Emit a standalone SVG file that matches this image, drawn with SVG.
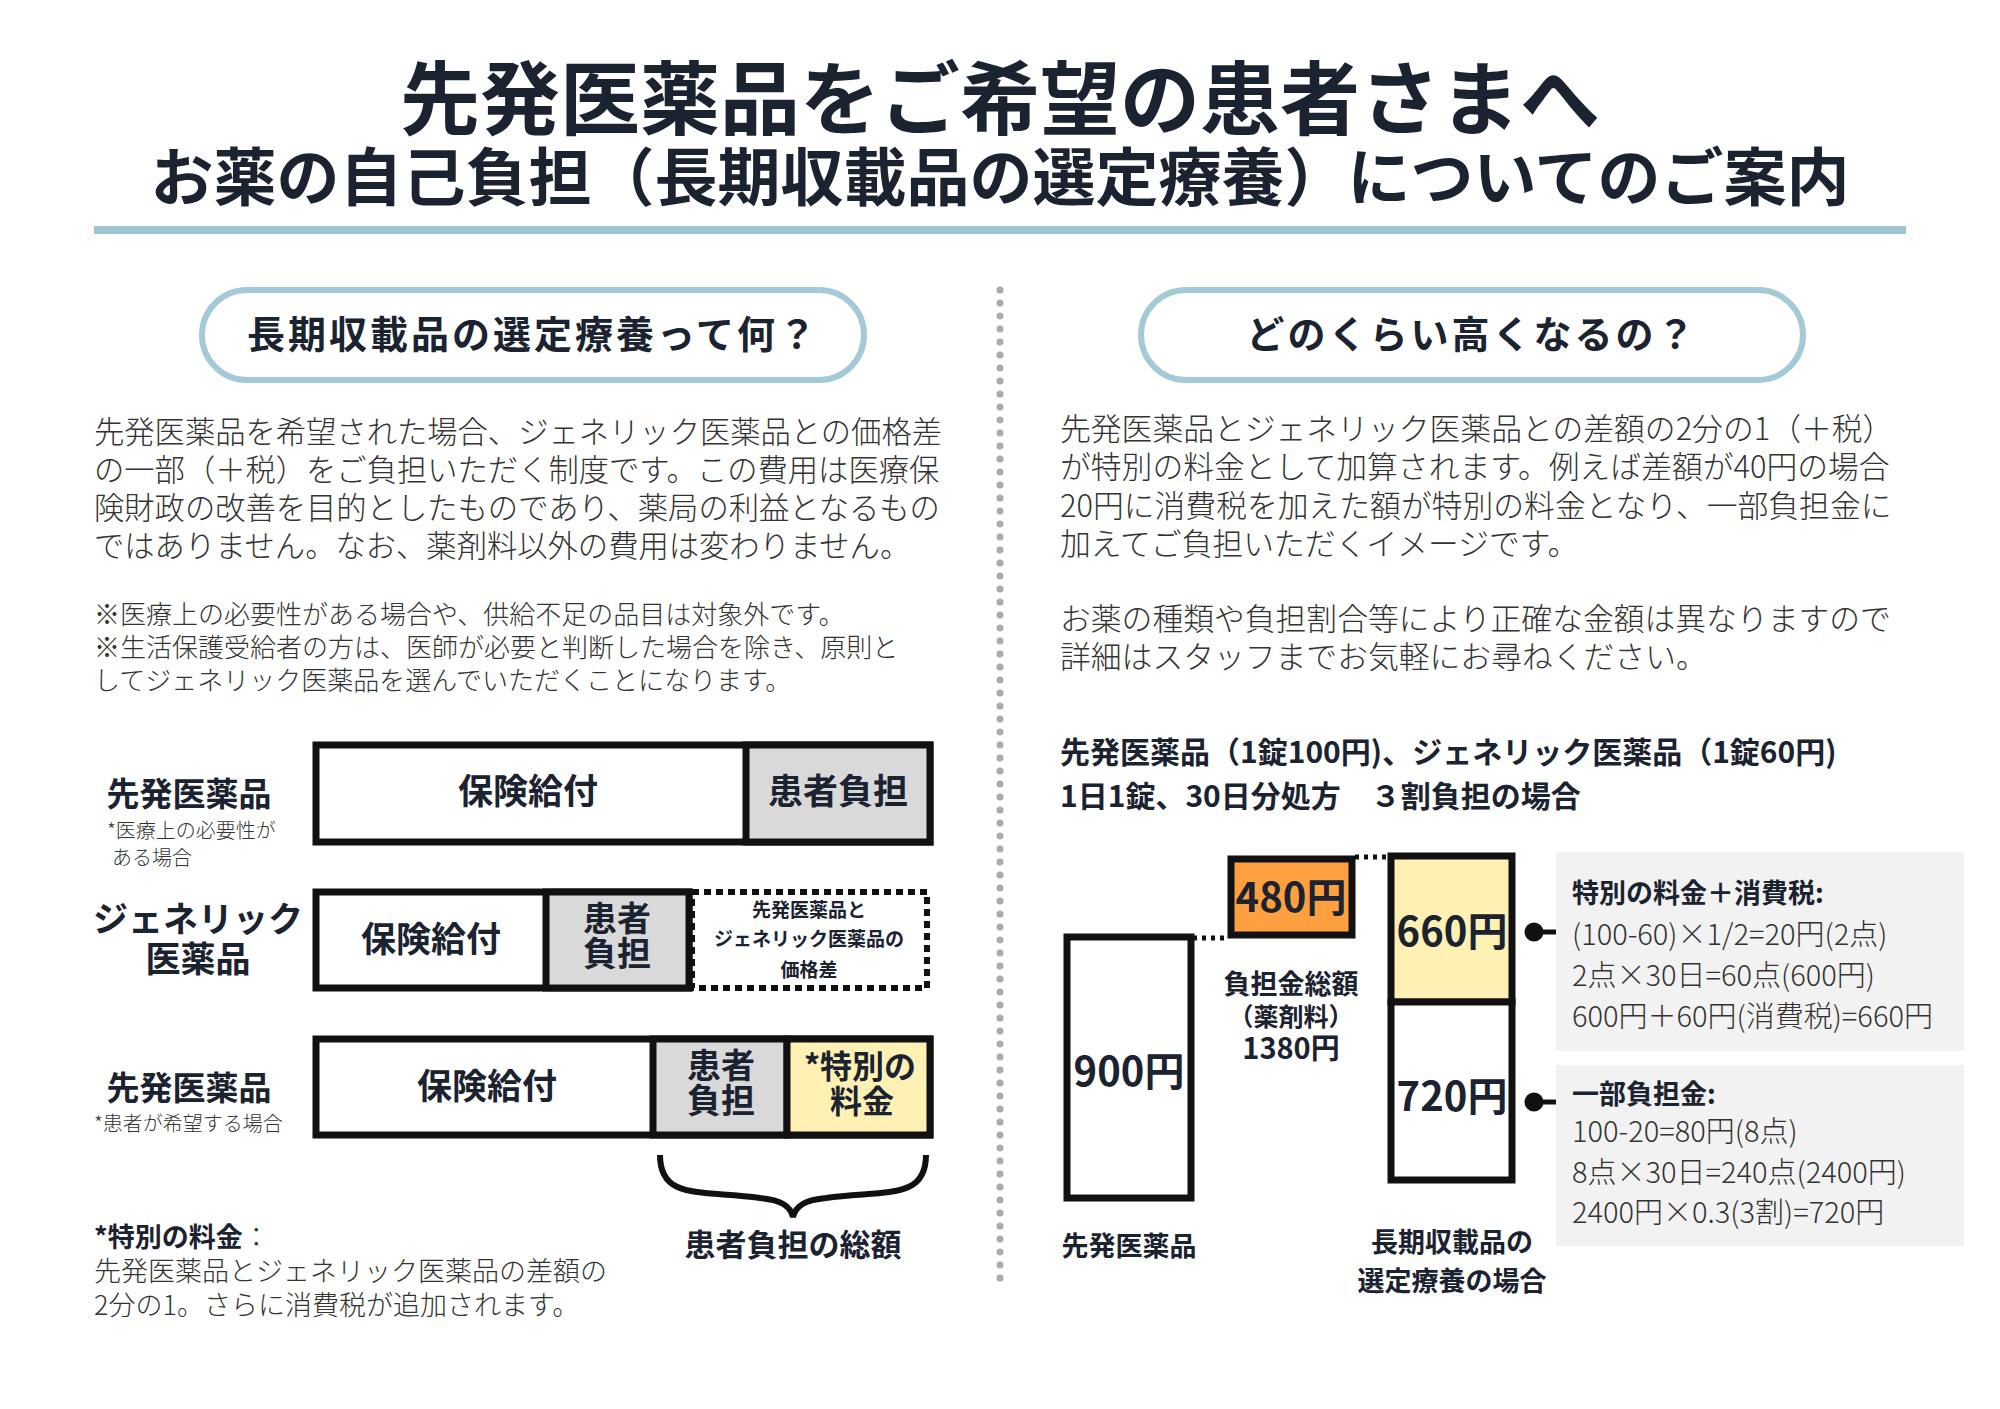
<svg xmlns="http://www.w3.org/2000/svg" width="2000" height="1409" viewBox="0 0 2000 1409">
<style>
text{font-family:"Noto Sans CJK JP","Noto Sans",sans-serif;fill:#1b2230}
.b{font-weight:700}
.l{font-weight:300;fill:#333}
.c{text-anchor:middle}
.bx{stroke:#111;stroke-width:7;fill:#fff}
.g{fill:#d9d9d9}
.y{fill:#fff0b3}
.o{fill:#ffa040}
</style>
<rect width="2000" height="1409" fill="#fff"/>
<g id="title">
<text class="b c" x="1000" y="128" font-size="80">先発医薬品をご希望の患者さまへ</text>
<text class="b c" x="1000" y="200" font-size="63">お薬の自己負担（長期収載品の選定療養）についてのご案内</text>
<rect x="94" y="226" width="1812" height="8" fill="#9fc7d3"/>
</g>
<g id="pill-left">
<rect x="202" y="290" width="662" height="90" rx="45" fill="#fff" stroke="#a3cad6" stroke-width="6"/>
<text class="b c" x="533" y="348" font-size="38" letter-spacing="3">長期収載品の選定療養って何？</text>
</g>
<g id="pill-right">
<rect x="1141" y="290" width="662" height="90" rx="45" fill="#fff" stroke="#a3cad6" stroke-width="6"/>
<text class="b c" x="1472" y="348" font-size="38" letter-spacing="3">どのくらい高くなるの？</text>
</g>
<line x1="1000" y1="290" x2="1000" y2="1282" stroke="#aaa" stroke-width="7" stroke-linecap="round" stroke-dasharray="0 13"/>
<g id="left-text" font-size="30.3">
<text class="l" x="94" y="443">先発医薬品を希望された場合、ジェネリック医薬品との価格差</text>
<text class="l" x="94" y="481">の一部（＋税）をご負担いただく制度です。この費用は医療保</text>
<text class="l" x="94" y="519">険財政の改善を目的としたものであり、薬局の利益となるもの</text>
<text class="l" x="94" y="557">ではありません。なお、薬剤料以外の費用は変わりません。</text>
<text class="l" x="94" y="624" font-size="26">※医療上の必要性がある場合や、供給不足の品目は対象外です。</text>
<text class="l" x="94" y="657" font-size="26">※生活保護受給者の方は、医師が必要と判断した場合を除き、原則と</text>
<text class="l" x="94" y="690" font-size="26">してジェネリック医薬品を選んでいただくことになります。</text>
</g>
<g id="right-text" font-size="30.8">
<text class="l" x="1060" y="440">先発医薬品とジェネリック医薬品との差額の2分の1（＋税）</text>
<text class="l" x="1060" y="478">が特別の料金として加算されます。例えば差額が40円の場合</text>
<text class="l" x="1060" y="517">20円に消費税を加えた額が特別の料金となり、一部負担金に</text>
<text class="l" x="1060" y="555">加えてご負担いただくイメージです。</text>
<text class="l" x="1060" y="630">お薬の種類や負担割合等により正確な金額は異なりますので</text>
<text class="l" x="1060" y="668">詳細はスタッフまでお気軽にお尋ねください。</text>
<text class="b" x="1060" y="763" font-size="30">先発医薬品（1錠100円)、ジェネリック医薬品（1錠60円)</text>
<text class="b" x="1060" y="807" font-size="30">1日1錠、30日分処方　３割負担の場合</text>
</g>
<g id="bar1">
<rect class="bx" x="316" y="745" width="614" height="97"/>
<rect class="bx g" x="746" y="745" width="184" height="97"/>
<text class="b c" x="528" y="804" font-size="35">保険給付</text>
<text class="b c" x="838" y="804" font-size="35">患者負担</text>
<text class="b c" x="189" y="806" font-size="33">先発医薬品</text>
<text class="l" x="107" y="838" font-size="20">*医療上の必要性が</text>
<text class="l" x="112" y="865" font-size="20">ある場合</text>
</g>
<g id="bar2">
<rect class="bx" x="316" y="892" width="373" height="96"/>
<rect class="bx g" x="546" y="892" width="143" height="96"/>
<rect x="692" y="892" width="235" height="96" fill="none" stroke="#111" stroke-width="6" stroke-dasharray="7 5"/>
<text class="b c" x="431" y="952" font-size="35">保険給付</text>
<text class="b c" x="617" y="931" font-size="34">患者</text>
<text class="b c" x="617" y="966" font-size="34">負担</text>
<text class="b c" x="809" y="917" font-size="19">先発医薬品と</text>
<text class="b c" x="809" y="946" font-size="19">ジェネリック医薬品の</text>
<text class="b c" x="809" y="977" font-size="19">価格差</text>
<text class="b c" x="198" y="932" font-size="35">ジェネリック</text>
<text class="b c" x="198" y="972" font-size="35">医薬品</text>
</g>
<g id="bar3">
<rect class="bx" x="316" y="1039" width="614" height="96"/>
<rect class="bx g" x="653" y="1039" width="134" height="96"/>
<rect class="bx y" x="787" y="1039" width="143" height="96"/>
<text class="b c" x="487" y="1099" font-size="35">保険給付</text>
<text class="b c" x="721" y="1078" font-size="34">患者</text>
<text class="b c" x="721" y="1113" font-size="34">負担</text>
<text class="b c" x="860" y="1078" font-size="32">*特別の</text>
<text class="b c" x="862" y="1113" font-size="32">料金</text>
<text class="b c" x="189" y="1100" font-size="33">先発医薬品</text>
<text class="l" x="94" y="1131" font-size="20">*患者が希望する場合</text>
</g>
<g id="brace">
<path d="M660,1155 C660,1200 700,1190 760,1198 C780,1200 790,1205 793,1217 C796,1205 806,1200 826,1198 C886,1190 926,1200 926,1155" fill="none" stroke="#111" stroke-width="6"/>
<text class="b c" x="793" y="1256" font-size="31">患者負担の総額</text>
</g>
<g id="footnote">
<text x="94" y="1247" font-size="27"><tspan class="b">*特別の料金</tspan><tspan class="l">：</tspan></text>
<text class="l" x="94" y="1281" font-size="27">先発医薬品とジェネリック医薬品の差額の</text>
<text class="l" x="94" y="1315" font-size="27">2分の1。さらに消費税が追加されます。</text>
</g>
<g id="connectors" stroke="#111" stroke-width="5" fill="none">
<line x1="1193" y1="938" x2="1228" y2="938" stroke-dasharray="4 5"/>
<line x1="1355" y1="857" x2="1388" y2="857" stroke-dasharray="4 5"/>
<line x1="1534" y1="932" x2="1556" y2="932"/>
<line x1="1534" y1="1102" x2="1556" y2="1102"/>
<circle cx="1534" cy="932" r="7" fill="#111"/>
<circle cx="1534" cy="1102" r="7" fill="#111"/>
</g>
<g id="col900">
<rect class="bx" x="1067" y="937" width="124" height="261"/>
<text class="b c" x="1129" y="1086" font-size="40">900円</text>
<text class="b c" x="1129" y="1256" font-size="27">先発医薬品</text>
</g>
<g id="col480">
<rect class="bx o" x="1231" y="859" width="121" height="76"/>
<text class="b c" x="1291" y="912" font-size="40">480円</text>
<text class="b c" x="1291" y="994" font-size="27">負担金総額</text>
<text class="b c" x="1291" y="1026" font-size="25">（薬剤料）</text>
<text class="b c" x="1291" y="1059" font-size="29">1380円</text>
</g>
<g id="col-choice">
<rect class="bx y" x="1391" y="856" width="121" height="146"/>
<rect class="bx" x="1391" y="1002" width="121" height="178"/>
<text class="b c" x="1452" y="946" font-size="40">660円</text>
<text class="b c" x="1452" y="1111" font-size="40">720円</text>
<text class="b c" x="1452" y="1252" font-size="27">長期収載品の</text>
<text class="b c" x="1452" y="1291" font-size="27">選定療養の場合</text>
</g>
<g id="box-tokubetsu">
<rect x="1556" y="852" width="408" height="199" fill="#f2f2f2"/>
<text class="b" x="1572" y="903" font-size="27">特別の料金＋消費税:</text>
<text class="l" x="1572" y="945" font-size="29">(100-60)×1/2=20円(2点)</text>
<text class="l" x="1572" y="986" font-size="29">2点×30日=60点(600円)</text>
<text class="l" x="1572" y="1027" font-size="29">600円＋60円(消費税)=660円</text>
</g>
<g id="box-ichibu">
<rect x="1556" y="1065" width="408" height="181" fill="#f2f2f2"/>
<text class="b" x="1572" y="1104" font-size="27">一部負担金:</text>
<text class="l" x="1572" y="1142" font-size="29">100-20=80円(8点)</text>
<text class="l" x="1572" y="1183" font-size="29">8点×30日=240点(2400円)</text>
<text class="l" x="1572" y="1223" font-size="29">2400円×0.3(3割)=720円</text>
</g>
</svg>
